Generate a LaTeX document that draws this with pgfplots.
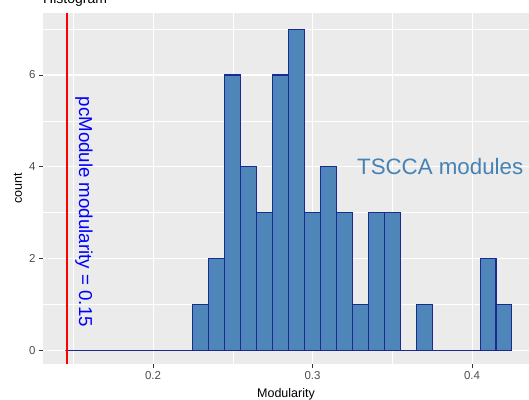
\documentclass[border=0pt]{standalone}
\usepackage{pgfplots}
\pgfplotsset{compat=1.18}
\usepackage{fontspec}
\setmainfont{Liberation Sans}
\definecolor{panelbg}{HTML}{EBEBEB}
\definecolor{steel}{HTML}{4F86B9}
\definecolor{barline}{HTML}{1B2A8E}
\definecolor{ticklab}{HTML}{4D4D4D}
\definecolor{tickcol}{HTML}{333333}
\definecolor{tscca}{HTML}{4682B4}
\begin{document}
\begin{tikzpicture}
\path[use as bounding box] (-43pt,-35pt) rectangle (486pt,364pt);
\begin{axis}[
  at={(0,0)}, anchor=south west,
  width=486pt, height=351pt, scale only axis,
  xmin=0.131, xmax=0.4357, ymin=-0.293, ymax=7.35,
  axis background/.style={fill=panelbg},
  axis line style={draw=none},
  xtick={0.2,0.3,0.4}, minor xtick={0.15,0.25,0.35},
  ytick={0,2,4,6}, minor ytick={1,3,5,7},
  xticklabels={0.2,0.3,0.4},
  grid=both,
  major grid style={white, line width=1.1pt},
  minor grid style={white, line width=0.55pt},
  tick style={tickcol, line width=0.8pt},
  major tick length=4pt, minor tick length=0pt,
  tick align=outside, xtick pos=lower, ytick pos=left,
  ticklabel style={font=\fontsize{11.5}{13}\selectfont, text=ticklab},
  /pgf/number format/assume math mode=true,
  xlabel={Modularity}, ylabel={count},
  label style={font=\fontsize{12.5}{14}\selectfont},
  xlabel style={at={([yshift=-30pt]axis description cs:0.5,0)}, anchor=center},
  ylabel style={at={([xshift=-25pt]axis description cs:0,0.5)}, anchor=center},
  clip mode=individual,
]
\addplot[ybar interval, fill=steel, draw=barline, line width=1.05pt, line join=miter] coordinates {
(0.145,0) (0.155,0) (0.165,0) (0.175,0) (0.185,0) (0.195,0) (0.205,0) (0.215,0)
(0.225,1) (0.235,2) (0.245,6) (0.255,4) (0.265,3) (0.275,6) (0.285,7) (0.295,3)
(0.305,4) (0.315,3) (0.325,1) (0.335,3) (0.345,3) (0.355,0) (0.365,1) (0.375,0)
(0.385,0) (0.395,0) (0.405,2) (0.415,1) (0.425,0)
};
\addplot[red, line width=2pt] coordinates {(0.146,-0.293) (0.146,7.35)};
\node[rotate=-90, anchor=center, text=blue, font=\fontsize{18.7}{20}\selectfont, inner sep=0pt]
  at (axis cs:0.1567,3.02) {pcModule modularity = 0.15};
\node[anchor=center, text=tscca, font=\fontsize{22.3}{24}\selectfont, inner sep=0pt]
  at (axis cs:0.380,4.0) {TSCCA modules};
\node[anchor=base west, font=\fontsize{14}{16}\selectfont, inner sep=0pt]
  at ([yshift=9.5pt]rel axis cs:0,1) {Histogram};
\end{axis}
\end{tikzpicture}
\end{document}
